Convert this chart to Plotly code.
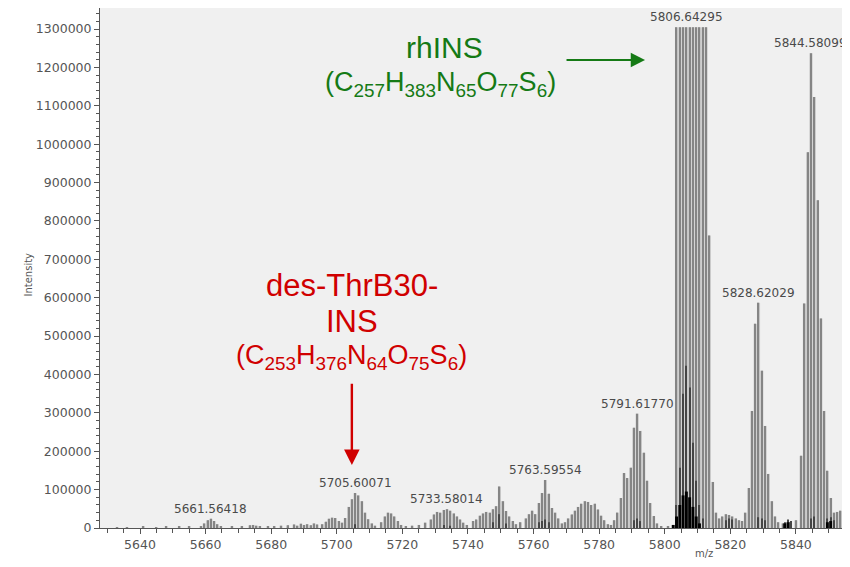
import plotly.graph_objects as go

# ---------------- data ----------------
main_mz = [
    5633, 5636, 5641, 5645, 5648, 5652, 5655,
    5658.6, 5659.6, 5660.6, 5661.6, 5662.6, 5663.6, 5664.6,
    5668, 5671, 5673.5, 5674.5, 5675.5, 5676.5, 5679, 5681, 5683, 5685,
    5687, 5688, 5689, 5690, 5691, 5692, 5693, 5694,
    5695.6, 5696.6, 5697.6, 5698.6, 5699.6, 5700.6,
    5701.6, 5702.6, 5703.6, 5704.6, 5705.6, 5706.6, 5707.6, 5708.6, 5709.6, 5710.6, 5711.6,
    5713.6, 5714.6, 5715.6, 5716.6, 5717.6, 5718.6, 5719.6,
    5721, 5723, 5725, 5727,
    5728.6, 5729.6, 5730.6, 5731.6, 5732.6, 5733.6, 5734.6, 5735.6, 5736.6, 5737.6, 5738.6, 5739.6,
    5741.6, 5742.6, 5743.6, 5744.6, 5745.6, 5746.6, 5747.6, 5748.6, 5749.6, 5750.6, 5751.6, 5752.6, 5753.6, 5754.6,
    5756, 5757.6,
    5758.6, 5759.6, 5760.6, 5761.6, 5762.6, 5763.6, 5764.6, 5765.6, 5766.6, 5767.6, 5768.6,
    5769.6, 5770.6, 5771.6, 5772.6, 5773.6, 5774.6, 5775.6, 5776.6, 5777.6, 5778.6, 5779.6, 5780.6, 5781.6, 5782.6,
    5783.6, 5784.6, 5785.6, 5786.6, 5787.6, 5788.6, 5789.6, 5790.6, 5791.6, 5792.6, 5793.6, 5794.6, 5795.6, 5796.6, 5797.6,
    5799, 5801,
    5803.6, 5804.6, 5805.6, 5806.6, 5807.6, 5808.6, 5809.6, 5810.6, 5811.6, 5812.6, 5813.6, 5814.6, 5815.6,
    5816.6, 5817.6, 5818.6, 5819.6, 5820.6, 5821.6, 5822.6, 5823.6,
    5824.6, 5825.6, 5826.6, 5827.6, 5828.6, 5829.6, 5830.6, 5831.6, 5832.6, 5833.6, 5834.6,
    5836, 5838, 5840,
    5841.6, 5842.6, 5843.6, 5844.6, 5845.6, 5846.6, 5847.6, 5848.6, 5849.6, 5850.6, 5851.6,
    5852.6, 5853.6, 5854.6, 5855.6,
]
main_int = [
    2000, 1500, 3000, 2500, 4000, 3000, 5000,
    5000, 12000, 20000, 24000, 18000, 10000, 4000,
    3000, 4000, 7000, 8000, 6000, 5000, 4000, 5000, 6000, 7000,
    9000, 6000, 11000, 8000, 10000, 7000, 12000, 9000,
    10000, 16000, 24000, 27000, 26000, 18000,
    14000, 26000, 55000, 75000, 91000, 85000, 70000, 40000, 23000, 12000, 6000,
    15000, 30000, 40000, 38000, 30000, 18000, 8000,
    5000, 6000, 8000, 14000,
    22000, 35000, 42000, 40000, 47000, 49000, 45000, 38000, 30000, 22000, 14000, 8000,
    18000, 22000, 32000, 38000, 42000, 40000, 49000, 57000, 108000, 70000, 44000, 30000, 18000, 10000,
    15000, 25000,
    36000, 45000, 36000, 65000, 91000, 125000, 89000, 52000, 40000, 25000, 12000,
    15000, 25000, 35000, 45000, 55000, 63000, 70000, 68000, 60000, 63000, 48000, 32000, 20000, 10000,
    8000, 20000, 40000, 78000, 143000, 130000, 157000, 261000, 298000, 253000, 196000, 123000, 65000, 31000, 12000,
    4000, 5000,
    1305000, 1305000, 1305000, 1305000, 1305000, 1305000, 1305000, 1305000, 1305000, 1305000, 762000, 120000, 40000,
    25000, 30000, 36000, 34000, 30000, 25000, 20000, 18000,
    40000, 104000, 305000, 532000, 587000, 410000, 266000, 141000, 70000, 30000, 15000,
    12000, 15000, 20000,
    188000, 585000, 979000, 1237000, 1123000, 854000, 546000, 305000, 149000, 78000, 40000,
    42000, 45000, 40000, 35000,
]

dark_mz = [
    5705.6, 5732.6, 5734.6, 5747.6, 5749.6, 5751.6,
    5761.6, 5762.6, 5763.6, 5764.6, 5790.6, 5791.6, 5792.6,
    5803.6, 5804.6, 5805.6, 5806.6, 5807.6, 5808.6, 5809.6, 5810.6, 5811.6,
    5818.6, 5819.6, 5820.6, 5828.6, 5829.6, 5830.6,
    5836.6, 5837.6, 5838.6, 5844.6, 5845.6, 5849.6, 5850.6, 5851.6,
]
dark_int = [
    10000, 8000, 6000, 15000, 36000, 12000,
    15000, 18000, 22000, 15000, 20000, 25000, 18000,
    60000, 157000, 350000, 423000, 366000, 222000, 123000, 60000, 25000,
    20000, 25000, 22000, 28000, 25000, 20000,
    15000, 22000, 18000, 25000, 30000, 25000, 28000, 20000,
]

black_mz = [
    5802.6, 5803.6, 5804.6, 5805.6, 5806.6, 5807.6, 5808.6, 5809.6, 5810.6,
    5836.6, 5837.6, 5849.6, 5850.6,
]
black_int = [
    8000, 30000, 60000, 85000, 95000, 80000, 55000, 30000, 12000,
    12000, 15000, 15000, 18000,
]

label_mz = [5661.56418, 5705.60071, 5733.58014, 5763.59554,
            5791.61770, 5806.64295, 5828.62029, 5844.58099]
label_int = [24000, 91000, 49000, 125000, 298000, 1305000, 587000, 1237000]

# ---------------- figure ----------------
fig = go.Figure()
fig.add_trace(go.Bar(x=main_mz, y=main_int, width=0.95,
                     marker=dict(color="#c6c6c6", line=dict(width=0)),
                     hoverinfo="skip"))
fig.add_trace(go.Bar(x=main_mz, y=main_int, width=0.32,
                     marker=dict(color="#858585", line=dict(width=0))))
fig.add_trace(go.Bar(x=dark_mz, y=dark_int, width=0.35,
                     marker=dict(color="#454545", line=dict(width=0))))
fig.add_trace(go.Bar(x=black_mz, y=black_int, width=0.9,
                     marker=dict(color="#000000", line=dict(width=0))))

annotations = []
for mz, h in zip(label_mz, label_int):
    annotations.append(dict(
        x=mz, y=h, xref="x", yref="y", text=f"{mz:.5f}",
        showarrow=False, yanchor="bottom", yshift=1,
        font=dict(family="DejaVu Sans", size=12, color="#4a4a4a")))

GREEN = "#157a15"
RED = "#d00000"
BIG = "Liberation Sans"

annotations += [
    dict(x=5733.0, y=1253000, xref="x", yref="y", text="rhINS", showarrow=False,
         font=dict(family=BIG, size=30, color=GREEN)),
    dict(x=5731.5, y=1157000, xref="x", yref="y",
         text="(C<sub>257</sub>H<sub>383</sub>N<sub>65</sub>O<sub>77</sub>S<sub>6</sub>)",
         showarrow=False, font=dict(family=BIG, size=27, color=GREEN)),
    dict(x=5794.0, y=1219500, xref="x", yref="y", ax=5769.6, ay=1219500,
         axref="x", ayref="y", text="", showarrow=True, arrowhead=2,
         arrowsize=1.3, arrowwidth=2.2, arrowcolor=GREEN),
    dict(x=5704.6, y=633000, xref="x", yref="y", text="des-ThrB30-", showarrow=False,
         font=dict(family=BIG, size=31, color=RED)),
    dict(x=5704.6, y=539000, xref="x", yref="y", text="INS", showarrow=False,
         font=dict(family=BIG, size=31, color=RED)),
    dict(x=5704.6, y=445000, xref="x", yref="y",
         text="(C<sub>253</sub>H<sub>376</sub>N<sub>64</sub>O<sub>75</sub>S<sub>6</sub>)",
         showarrow=False, font=dict(family=BIG, size=27, color=RED)),
    dict(x=5704.6, y=164000, xref="x", yref="y", ax=5704.6, ay=380000,
         axref="x", ayref="y", text="", showarrow=True, arrowhead=2,
         arrowsize=1.3, arrowwidth=2.4, arrowcolor=RED),
    dict(x=-0.105, y=0.487, xref="paper", yref="paper", text="Intensity",
         textangle=-90, showarrow=False,
         font=dict(family="DejaVu Sans", size=10, color="#555555")),
    dict(x=0.82, y=-0.0635, xref="paper", yref="paper", text="m/z",
         showarrow=False,
         font=dict(family="DejaVu Sans", size=10, color="#555555")),
]

axis_font = dict(family="DejaVu Sans", size=12.5, color="#555555")
# page body has an 8px default margin: figure is sized/offset to compensate
fig.update_layout(
    width=842, height=559,
    margin=dict(l=92, r=0, t=0, b=39),
    paper_bgcolor="white", plot_bgcolor="#f0f0f0",
    barmode="overlay", showlegend=False,
    annotations=annotations,
    xaxis=dict(range=[5627.8, 5856.5], tick0=5640, dtick=20,
               ticks="outside", ticklen=5, tickcolor="#555555",
               showline=True, linecolor="#555555", linewidth=1,
               showgrid=False, zeroline=False, tickfont=axis_font,
               minor=dict(dtick=5, tick0=5640, ticks="outside", ticklen=4,
                          tickcolor="#555555", showgrid=False)),
    yaxis=dict(range=[0, 1355000], tick0=0, dtick=100000, tickformat="d",
               ticks="outside", ticklen=5, tickcolor="#555555",
               showline=True, linecolor="#555555", linewidth=1,
               showgrid=False, zeroline=False, tickfont=axis_font,
               minor=dict(dtick=20000, tick0=0, ticks="outside", ticklen=3,
                          tickcolor="#555555", showgrid=False)),
)

fig.write_html("out.html")
